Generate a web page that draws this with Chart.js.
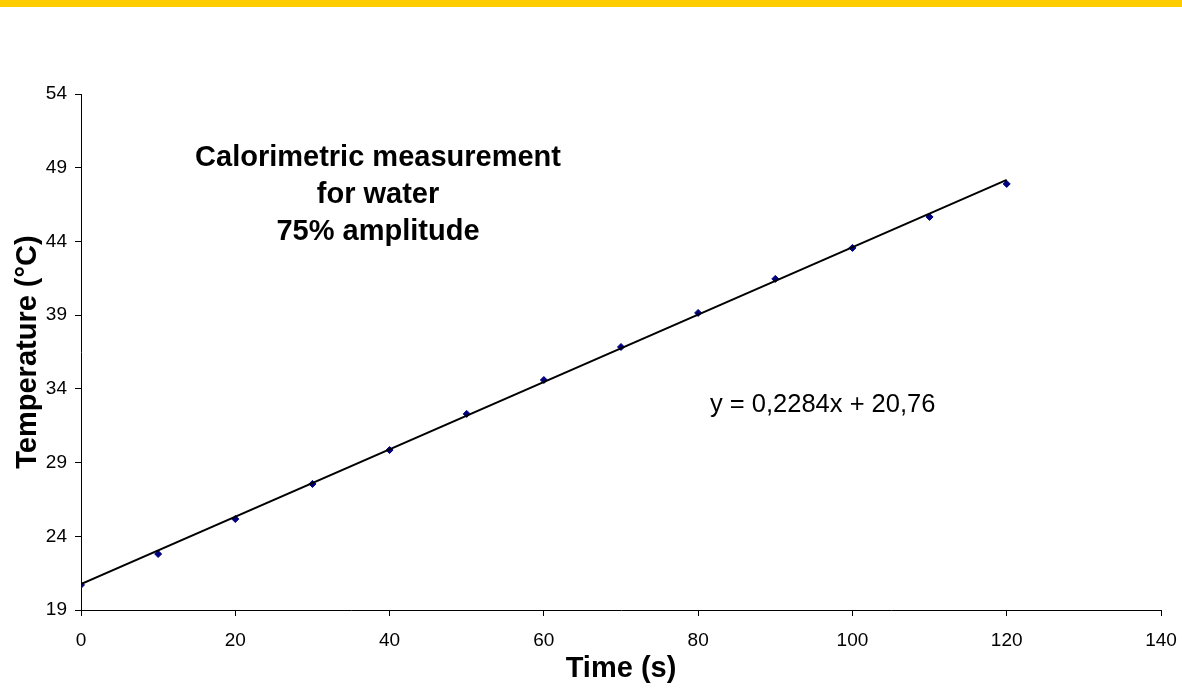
<!DOCTYPE html>
<html>
<head>
<meta charset="utf-8">
<script src="https://cdn.jsdelivr.net/npm/chart.js@4/dist/chart.umd.min.js"></script>
<style>
  html, body { margin: 0; padding: 0; background: #fff; }
  canvas { display: block; }
</style>
</head>
<body>
<canvas id="myChart" width="1182" height="692"></canvas>
<script>
// valores
const times = [0, 10, 20, 30, 40, 50, 60, 70, 80, 90, 100, 110, 120];
const temps = [20.70, 22.80, 25.17, 27.55, 29.85, 32.30, 34.60, 36.84, 39.15, 41.46, 43.56, 45.66, 47.90];

// linea de tendencia (extremos)
const trendX = [0, 120];
const trendY = [20.76, 48.17];

const xTicks = [0, 20, 40, 60, 80, 100, 120, 140];
const yTicks = [19, 24, 29, 34, 39, 44, 49, 54];

const titleLines = ['Calorimetric measurement', 'for water', '75% amplitude'];
const equation = 'y = 0,2284x + 20,76';

const fontFam = '"Liberation Sans", Arial, sans-serif';

// banda amarilla y textos
const extras = {
    id: 'extras',
    beforeDraw(chart) {
        const ctx = chart.ctx;
        ctx.save();
        ctx.fillStyle = '#fff';
        ctx.fillRect(0, 0, chart.width, chart.height);
        ctx.fillStyle = '#FFCC00';
        ctx.fillRect(0, 0, chart.width, 7);
        ctx.restore();
    },
    afterDraw(chart) {
        const ctx = chart.ctx;
        ctx.save();
        ctx.fillStyle = '#000';
        ctx.textBaseline = 'middle';
        ctx.font = 'bold 29px ' + fontFam;
        ctx.textAlign = 'center';
        titleLines.forEach((t, i) => {
            ctx.fillText(t, 378, 158 + i * 37);
        });
        ctx.font = '25.5px ' + fontFam;
        ctx.textAlign = 'left';
        ctx.fillText(equation, 710, 405);
        ctx.restore();
    }
};

const data = {
    datasets: [
        {
            type: 'line',
            label: 'Trend',
            data: trendX.map((x, i) => ({x: x, y: trendY[i]})),
            borderColor: '#000',
            borderWidth: 2,
            pointRadius: 0,
            fill: false,
            order: 0
        },
        {
            type: 'scatter',
            label: 'Temperature',
            data: times.map((x, i) => ({x: x, y: temps[i]})),
            pointStyle: 'rectRot',
            pointRadius: 3.5,
            backgroundColor: '#000080',
            borderColor: '#000080',
            borderWidth: 1,
            order: 1
        }
    ]
};

const config = {
    type: 'scatter',
    data: data,
    plugins: [extras],
    options: {
        responsive: false,
        animation: false,
        layout: {
            padding: {top: 94, right: 21, bottom: 0, left: 0}
        },
        plugins: {
            legend: {display: false},
            tooltip: {enabled: false}
        },
        scales: {
            x: {
                type: 'linear',
                min: 0,
                max: 140,
                afterBuildTicks: (s) => { s.ticks = xTicks.map(v => ({value: v})); },
                afterFit: (s) => { s.height = 82; s.paddingLeft = 0; s.paddingRight = 0; },
                ticks: {
                    color: '#000',
                    padding: 13,
                    font: {family: fontFam, size: 19}
                },
                grid: {drawOnChartArea: false, drawTicks: true, tickLength: 6, color: '#000'},
                border: {color: '#000', width: 1},
                title: {
                    display: true,
                    text: 'Time (s)',
                    color: '#000',
                    font: {family: fontFam, size: 29, weight: 'bold'},
                    padding: {top: 0, bottom: 6}
                }
            },
            y: {
                type: 'linear',
                min: 19,
                max: 54,
                afterBuildTicks: (s) => { s.ticks = yTicks.map(v => ({value: v})); },
                afterFit: (s) => { s.width = 81; s.paddingTop = 0; s.paddingBottom = 0; },
                ticks: {
                    color: '#000',
                    padding: 8,
                    font: {family: fontFam, size: 19}
                },
                grid: {drawOnChartArea: false, drawTicks: true, tickLength: 6, color: '#000'},
                border: {color: '#000', width: 1},
                title: {
                    display: true,
                    text: 'Temperature (°C)',
                    color: '#000',
                    font: {family: fontFam, size: 29, weight: 'bold'},
                    padding: {top: 11, bottom: 0}
                }
            }
        }
    }
};

const myChart = new Chart(document.getElementById('myChart'), config);
</script>
</body>
</html>
